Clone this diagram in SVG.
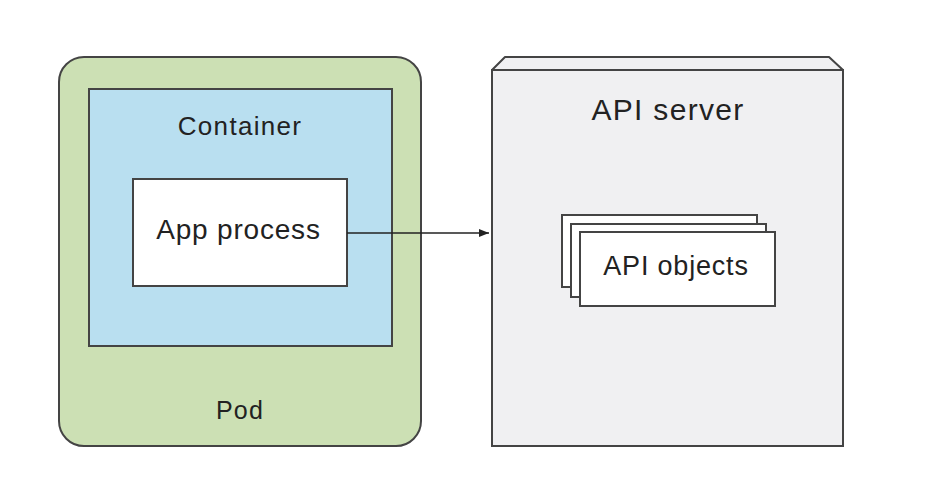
<svg xmlns="http://www.w3.org/2000/svg" width="934" height="490" viewBox="0 0 934 490">
<style>
text{font-family:"Liberation Sans",Arial,sans-serif;fill:#222;text-anchor:middle}
.s{stroke:#444;stroke-width:2}
</style>
<defs><marker id="ah" markerWidth="10" markerHeight="8" refX="10" refY="4" orient="auto" markerUnits="userSpaceOnUse"><path d="M0,0L10,4L0,8z" fill="#222"/></marker></defs>
<rect width="934" height="490" fill="#fff"/>
<g id="pod">
<rect class="s" x="59" y="57" width="362" height="389" rx="25" fill="#cce0b4"/>
<text x="240" y="419" font-size="25" letter-spacing="1.2">Pod</text>
</g>
<g id="container">
<rect class="s" x="89" y="89" width="303" height="257" fill="#b9dff0"/>
<text x="240" y="135" font-size="26" letter-spacing="1.3">Container</text>
</g>
<g id="app">
<rect class="s" x="133" y="179" width="214" height="107" fill="#fff"/>
<text x="238.5" y="239" font-size="28" letter-spacing="0.8">App process</text>
</g>
<g id="apiserver">
<path class="s" d="M492,70L505,57L829,57L843,70z" fill="#f0f0f2" stroke-linejoin="round"/>
<rect class="s" x="492" y="70" width="351" height="376" fill="#f0f0f2"/>
<text x="668" y="120" font-size="30" letter-spacing="1.3">API server</text>
</g>
<g id="apiobjects">
<rect class="s" x="562" y="215" width="195" height="72" fill="#fff"/>
<rect class="s" x="571" y="224" width="195" height="73" fill="#fff"/>
<rect class="s" x="580" y="232" width="195" height="74" fill="#fff"/>
<text x="676" y="275" font-size="27" letter-spacing="0.8">API objects</text>
</g>
<g id="connectors">
<line x1="347" y1="233" x2="489" y2="233" stroke="#222" stroke-width="1.5" marker-end="url(#ah)"/>
</g>
</svg>
